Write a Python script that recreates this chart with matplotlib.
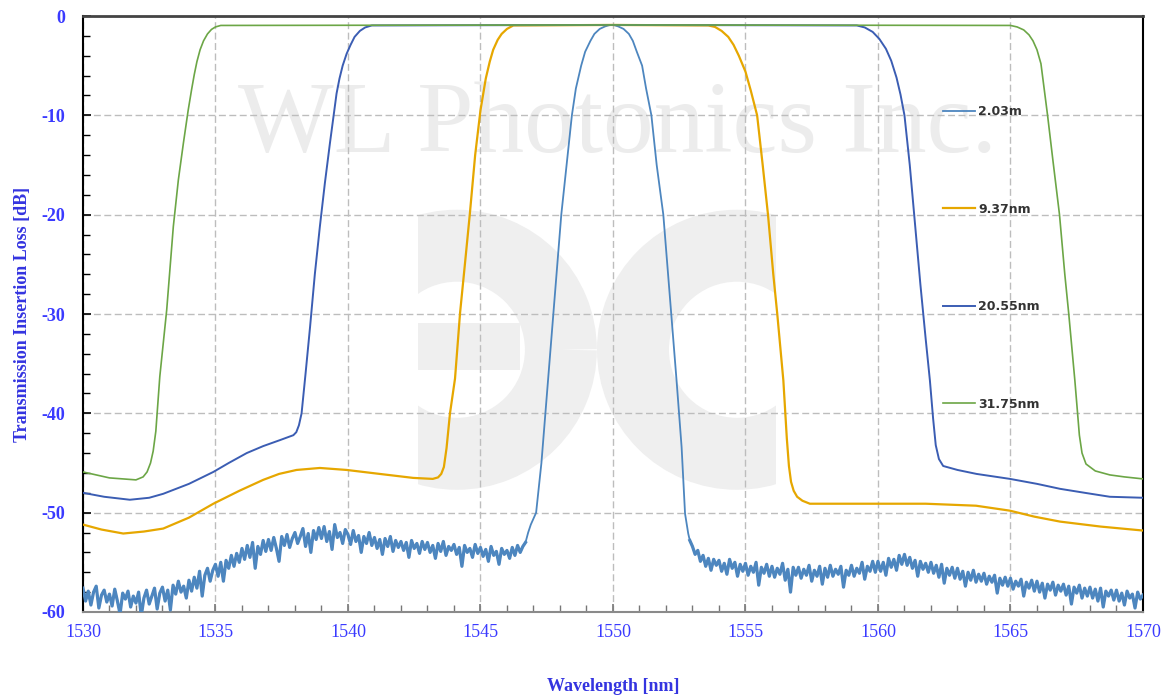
import numpy as np
import matplotlib
matplotlib.use("Agg")
import matplotlib.pyplot as plt
from matplotlib.patches import Arc, Rectangle
from matplotlib.ticker import MultipleLocator

plt.rcParams["axes.unicode_minus"] = False

# ---- data (wavelength nm, insertion loss dB) ----
labels = ["2.03m", "9.37nm", "20.55nm", "31.75nm"]
colors = ["#4d86bf", "#e6a700", "#3b5db3", "#6ca646"]
widths = [1.3, 1.6, 1.4, 1.2]

# 2.03 nm filter: noisy floor (0.1 nm steps), smooth peak, noisy floor
blue_left_y = [
    -57.6, -58.9, -57.9, -59.3, -58.0, -57.4, -59.6, -58.3, -57.8, -59.0,
    -58.2, -59.4, -57.7, -58.9, -60.2, -58.1, -58.7, -57.9, -59.5, -58.4,
    -59.1, -58.0, -60.4, -58.6, -57.8, -59.2, -58.4, -57.6, -59.7, -58.1,
    -57.5, -58.9, -57.8, -59.8, -57.3, -58.2, -56.9, -58.0, -57.4, -58.6,
    -56.8, -57.9, -56.5, -57.6, -55.9, -58.4, -56.3, -55.6, -56.9, -55.8,
    -55.2, -56.4, -55.0, -56.9, -54.8, -55.6, -54.3, -55.4, -54.1, -55.0,
    -53.6, -54.7, -53.3, -54.5, -53.0, -55.6, -53.4, -54.2, -52.8, -53.9,
    -52.7, -53.8, -52.5, -53.6, -54.9, -52.4, -53.3, -52.2, -53.5, -52.6,
    -52.0, -53.1, -52.4, -51.6, -53.4, -52.1, -54.0, -51.8, -52.7, -51.5,
    -52.6, -51.4, -52.9, -51.9, -53.7, -51.2, -52.5, -52.0, -53.1, -51.7,
    -52.2, -53.2, -51.8, -52.9, -52.3, -54.0, -52.4, -53.1, -52.0, -53.3,
    -52.5, -53.6, -52.7, -54.2, -52.6, -53.4, -52.4, -53.9, -52.8, -53.5,
    -52.9, -53.8, -53.0, -54.5, -52.8, -53.6, -53.1, -54.1, -52.9, -53.7,
    -53.0, -54.0, -53.3, -54.6, -53.1, -53.9, -52.9, -54.3, -53.4, -53.8,
    -53.2, -54.2, -53.5, -55.4, -53.3, -54.0, -53.6, -54.5, -53.2, -54.1,
    -53.5, -54.4, -53.7, -54.9, -53.4, -54.3, -53.9, -55.2, -53.6, -54.2,
    -53.8, -54.6, -53.5, -54.3, -53.3, -54.0, -53.4, -53.0,
]
blue_peak_x = [1546.8, 1546.9, 1547.1, 1547.3, 1547.45, 1547.6, 1547.75, 1547.9,
               1548.05, 1548.25, 1548.45, 1548.6, 1548.8, 1548.95, 1549.15, 1549.3,
               1549.5, 1549.7, 1549.85, 1549.95, 1550.05, 1550.2, 1550.4, 1550.6,
               1550.75, 1550.9, 1551.1, 1551.25, 1551.45, 1551.65, 1551.9, 1552.05,
               1552.2, 1552.4, 1552.59, 1552.72, 1552.84]
blue_peak_y = [-52.0, -51.2, -50.0, -45.0, -40.0, -35.0, -30.0, -25.0,
               -20.0, -15.0, -10.0, -7.3, -5.0, -3.6, -2.5, -1.8,
               -1.3, -1.05, -0.93, -0.9, -0.93, -1.05, -1.3, -1.8,
               -2.5, -3.6, -5.0, -7.3, -10.0, -15.0, -20.0, -25.0,
               -30.0, -36.7, -43.4, -50.1, -52.1]
blue_right_y = [
    -52.8,
    -53.4, -54.2, -53.8, -54.9, -54.3, -55.4, -54.6, -55.8, -54.7, -55.3,
    -54.8, -55.9, -55.1, -56.2, -54.7, -55.6, -55.0, -56.4, -55.2, -55.9,
    -55.1, -56.3, -55.4, -56.0, -55.0, -57.3, -55.5, -56.1, -55.2, -56.4,
    -55.4, -56.5, -55.6, -56.2, -55.1, -56.8, -55.7, -58.0, -55.5, -56.3,
    -55.5, -56.6, -55.7, -56.3, -55.3, -56.9, -55.8, -56.4, -55.4, -57.2,
    -55.6, -56.5, -55.3, -56.4, -55.7, -56.2, -55.4, -57.5, -55.8, -56.3,
    -55.3, -56.4, -55.6, -56.1, -55.0, -56.7, -55.4, -55.9, -54.9, -56.0,
    -54.9, -55.9, -55.0, -56.3, -54.6, -55.5, -54.7, -55.8, -54.3, -55.2,
    -54.2, -55.3, -54.5, -55.6, -54.8, -56.4, -54.9, -55.7, -55.1, -56.0,
    -55.0, -56.1, -55.3, -56.5, -55.2, -57.1, -55.6, -56.3, -55.5, -56.6,
    -55.6, -56.7, -55.9, -57.4, -56.0, -56.8, -55.8, -57.0, -56.2, -56.9,
    -56.1, -57.2, -56.4, -57.0, -56.3, -58.1, -56.6, -57.3, -56.5, -57.4,
    -56.6, -57.7, -56.9, -57.4, -56.7, -58.4, -57.0, -57.6, -56.8, -57.9,
    -56.9, -58.0, -57.1, -58.6, -57.2, -57.8, -57.0, -58.3, -57.3, -57.9,
    -57.2, -58.3, -57.4, -59.2, -57.5, -58.1, -57.3, -58.6, -57.6, -58.4,
    -57.5, -58.6, -57.7, -58.9, -57.6, -59.5, -57.9, -58.4, -57.8, -58.8,
    -57.8, -58.9, -58.1, -59.3, -57.9, -58.6, -58.2, -59.6, -58.0, -58.7,
    -58.3,
]
blue_left_x = 1530.0 + 0.1 * np.arange(len(blue_left_y))
blue_right_x = 1552.9 + 0.1 * np.arange(len(blue_right_y))
wl_2nm = np.concatenate([blue_left_x, blue_peak_x, blue_right_x])
il_2nm = np.concatenate([blue_left_y, blue_peak_y, blue_right_y])

wl_9nm = [1530.0, 1530.7, 1531.52, 1532.3, 1533.03, 1534.0, 1534.92, 1535.9, 1536.8,
          1537.4, 1538.06, 1538.94, 1539.95, 1541.2, 1542.46, 1543.2, 1543.4, 1543.52,
          1543.62, 1543.72, 1543.85, 1544.04, 1544.23, 1544.42, 1544.6, 1544.8, 1545.0,
          1545.2, 1545.35, 1545.48, 1545.65, 1545.8, 1546.0, 1546.24, 1550.0, 1553.6,
          1553.85, 1554.1, 1554.35, 1554.55, 1554.75, 1555.0, 1555.2, 1555.44, 1555.65,
          1555.85, 1556.05, 1556.2, 1556.43, 1556.56, 1556.64, 1556.72, 1556.82, 1556.95,
          1557.15, 1557.43, 1559.3, 1561.8, 1563.7, 1564.98, 1565.9, 1566.87, 1568.4, 1570.0]
il_9nm = [-51.2, -51.7, -52.1, -51.9, -51.6, -50.5, -49.1, -47.8, -46.7,
          -46.1, -45.7, -45.5, -45.7, -46.1, -46.5, -46.6, -46.45, -46.1,
          -45.4, -43.5, -40.0, -36.5, -29.9, -24.8, -19.9, -14.0, -9.5,
          -6.3, -4.6, -3.4, -2.4, -1.8, -1.3, -0.95, -0.9, -0.95,
          -1.1, -1.5, -2.1, -2.9, -4.0, -5.6, -7.5, -10.0, -15.0,
          -20.0, -26.0, -30.0, -36.7, -42.5, -45.3, -46.9, -47.8, -48.4,
          -48.8, -49.1, -49.1, -49.1, -49.3, -49.8, -50.4, -50.9, -51.4, -51.8]

wl_20nm = [1530.0, 1530.8, 1531.77, 1532.5, 1533.03, 1534.0, 1534.92, 1535.5, 1536.18,
           1536.8, 1537.43, 1537.94, 1538.05, 1538.15, 1538.25, 1538.4, 1538.57, 1538.75,
           1538.94, 1539.13, 1539.32, 1539.45, 1539.57, 1539.68, 1539.8, 1539.95, 1540.1,
           1540.25, 1540.45, 1540.65, 1540.9, 1550.0, 1559.2, 1559.5, 1559.8, 1560.05,
           1560.3, 1560.5, 1560.7, 1560.85, 1561.0, 1561.2, 1561.4, 1561.6, 1561.8,
           1561.96, 1562.08, 1562.18, 1562.3, 1562.46, 1563.0, 1563.72, 1564.98,
           1566.0, 1566.87, 1567.8, 1568.75, 1570.0]
il_20nm = [-48.0, -48.4, -48.7, -48.5, -48.1, -47.1, -45.9, -45.0, -44.0,
           -43.3, -42.7, -42.2, -41.9, -41.2, -40.0, -36.0, -31.3, -26.0,
           -21.2, -16.8, -12.8, -10.2, -7.8, -6.3, -5.0, -3.8, -2.9,
           -2.1, -1.5, -1.15, -0.95, -0.9, -0.95, -1.15, -1.6, -2.3,
           -3.3, -4.5, -6.2, -7.9, -10.0, -15.0, -21.0, -27.0, -32.5,
           -36.7, -40.5, -43.2, -44.6, -45.3, -45.7, -46.1, -46.6,
           -47.1, -47.6, -48.0, -48.4, -48.5]

wl_31nm = [1530.0, 1530.5, 1531.0, 1531.5, 1532.0, 1532.27, 1532.42, 1532.55, 1532.65,
           1532.75, 1532.9, 1533.16, 1533.41, 1533.6, 1533.79, 1533.97, 1534.1, 1534.2,
           1534.3, 1534.42, 1534.55, 1534.7, 1534.85, 1535.0, 1535.2, 1550.0, 1565.0,
           1565.25, 1565.5, 1565.7, 1565.85, 1566.0, 1566.15, 1566.4, 1566.6, 1566.85,
           1567.05, 1567.2, 1567.43, 1567.52, 1567.6, 1567.7, 1567.85, 1568.2, 1568.75,
           1569.3, 1570.0]
il_31nm = [-45.9, -46.2, -46.5, -46.6, -46.7, -46.4, -45.9, -45.0, -43.8,
           -41.8, -36.3, -29.6, -21.2, -16.5, -12.8, -9.5, -7.4, -5.9,
           -4.6, -3.4, -2.5, -1.8, -1.35, -1.1, -0.95, -0.9, -0.95,
           -1.1, -1.4, -1.9, -2.5, -3.4, -4.8, -10.0, -14.5, -20.0,
           -26.0, -30.0, -36.7, -39.6, -42.2, -44.0, -45.1, -45.8, -46.2,
           -46.4, -46.6]

series_x = [wl_2nm, wl_9nm, wl_20nm, wl_31nm]
series_y = [il_2nm, il_9nm, il_20nm, il_31nm]

tick_blue = "#3a3aff"
label_blue = "#3434e0"

fig = plt.figure(figsize=(11.7, 6.96), dpi=100)
ax = fig.add_axes([0.0709, 0.1207, 0.906, 0.8563])
ax.set_xlim(1530, 1570)
ax.set_ylim(-60, 0)

# watermark: company name and logo
ax.text(1550.15, -11.2, "WL Photonics Inc.", fontsize=73, family="Liberation Serif",
        color="#ececec", ha="center", va="center", zorder=0)
wm = "#efefef"
left_clip = Rectangle((1542.64, -60), 20, 60, transform=ax.transData)
right_clip = Rectangle((1536.0, -60), 20.15, 60, transform=ax.transData)
for cx, clip in [(1544.11, left_clip), (1554.68, right_clip)]:
    ring = Arc((cx, -33.6), 7.85, 20.95, lw=51.8, color=wm, zorder=0)
    ax.add_patch(ring)
    ring.set_clip_path(clip)
ax.add_patch(Rectangle((1542.64, -35.6), 3.85, 4.7, color=wm, lw=0, zorder=0))

for x, y, c, lab, w in zip(series_x, series_y, colors, labels, widths):
    ax.plot(x, y, color=c, lw=w, label=lab, zorder=3)

# the noisy floors of the 2.03 trace read as a thicker band
ax.plot(blue_left_x, blue_left_y, color=colors[0], lw=2.3, zorder=3)
ax.plot(blue_right_x, blue_right_y, color=colors[0], lw=2.3, zorder=3)

ax.xaxis.set_major_locator(MultipleLocator(5))
ax.xaxis.set_minor_locator(MultipleLocator(1))
ax.yaxis.set_major_locator(MultipleLocator(10))
ax.yaxis.set_minor_locator(MultipleLocator(2))
ax.tick_params(which="both", direction="in", top=False, right=False)
ax.tick_params(which="major", length=6, width=1.2)
ax.tick_params(which="minor", length=5, width=1.0)
ax.tick_params(axis="x", which="both", color="#777777")
ax.tick_params(axis="x", labelsize=13, labelcolor=tick_blue, pad=9)
ax.tick_params(axis="y", labelsize=13, labelcolor=tick_blue, pad=13)
for t in ax.get_xticklabels() + ax.get_yticklabels():
    t.set_family("Liberation Serif")
for t in ax.get_yticklabels():
    t.set_fontweight("bold")

ax.grid(True, which="major", color="#bdbdbd", lw=1.0, linestyle=(0, (5, 2.5)), zorder=1)

ax.spines["left"].set_color("black")
ax.spines["left"].set_linewidth(1.5)
ax.spines["right"].set_color("black")
ax.spines["right"].set_linewidth(1.5)
ax.spines["top"].set_color("#444444")
ax.spines["top"].set_linewidth(2.0)
ax.spines["bottom"].set_color("#8a8a8a")
ax.spines["bottom"].set_linewidth(1.5)

ax.set_xlabel("Wavelength [nm]", family="Liberation Serif", fontweight="bold",
              fontsize=13, color=label_blue, labelpad=26)
ax.set_ylabel("Transmission Insertion Loss [dB]", family="Liberation Serif",
              fontweight="bold", fontsize=13, color=label_blue, labelpad=7)

leg = ax.legend(loc="upper left", bbox_to_anchor=(0.811, 0.850), frameon=False,
                borderpad=0, borderaxespad=0, handlelength=2.6, handletextpad=0.25,
                labelspacing=6.75, prop={"family": "DejaVu Sans", "weight": "bold", "size": 9})
for t in leg.get_texts():
    t.set_color("#333333")

fig.savefig("out.png", dpi=100)
